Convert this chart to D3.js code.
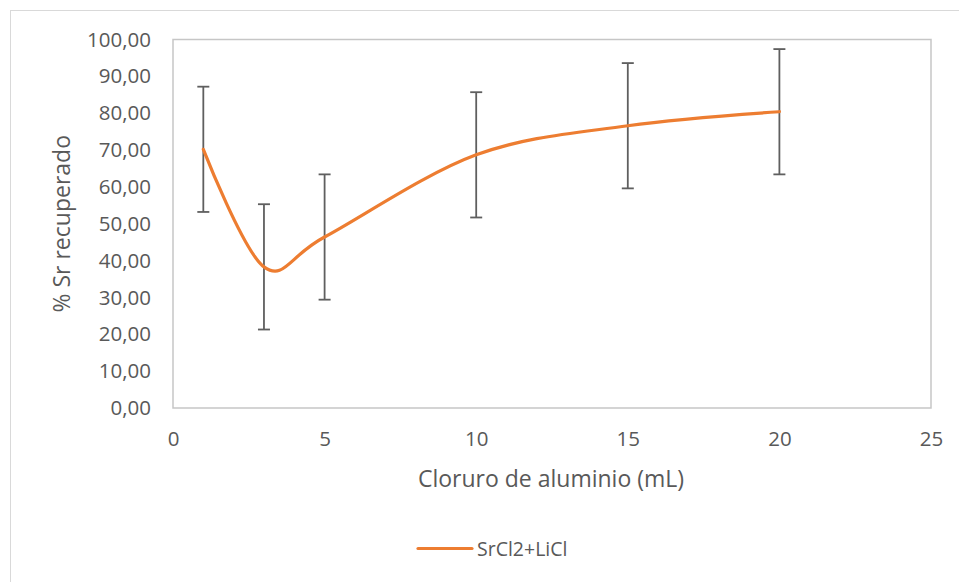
<!DOCTYPE html>
<html>
<head>
<meta charset="utf-8">
<script src="https://cdn.jsdelivr.net/npm/d3@7"></script>
<style>
  html, body { margin: 0; padding: 0; background: #fff; }
  svg { display: block; }
  text { font-family: "Open Sans", "Noto Sans", sans-serif; fill: #595959; }
</style>
</head>
<body>
<svg id="chart" width="959" height="582"></svg>
<script>
// Aluminium chloride volume (mL) vs. % Sr recovered
const volumes = [1, 3, 5, 10, 15, 20];
const recovered = [70.2, 38.3, 46.4, 68.7, 76.6, 80.4];
const errors = [17, 17, 17, 17, 17, 17];
const xTicks = [0, 5, 10, 15, 20, 25];
const yTicks = [0, 10, 20, 30, 40, 50, 60, 70, 80, 90, 100];
const seriesName = "SrCl2+LiCl";
const xTitle = "Cloruro de aluminio (mL)";
const yTitle = "% Sr recuperado";

const svg = d3.select("#chart");
const W = 959, H = 582;
const plot = { left: 173, right: 931, top: 39.5, bottom: 408 };

// chart frame (only top/left edges fall inside the canvas)
svg.append("rect")
  .attr("x", 10.5).attr("y", 10.5)
  .attr("width", W + 20).attr("height", H + 20)
  .attr("fill", "#fff").attr("stroke", "#d9d9d9").attr("stroke-width", 1);

const x = d3.scaleLinear().domain([0, 25]).range([plot.left, plot.right]);
const y = d3.scaleLinear().domain([0, 100]).range([plot.bottom, plot.top]);

// plot area border
svg.append("rect")
  .attr("x", plot.left).attr("y", plot.top)
  .attr("width", plot.right - plot.left).attr("height", plot.bottom - plot.top)
  .attr("fill", "none").attr("stroke", "#c6c6c6").attr("stroke-width", 1.5);

const fmt = d => d.toFixed(2).replace(".", ",");

// y axis
const yAxis = svg.append("g")
  .attr("transform", `translate(${plot.left},0)`)
  .call(d3.axisLeft(y).tickValues(yTicks).tickFormat(fmt).tickSize(0).tickPadding(22));
yAxis.select(".domain").remove();
yAxis.selectAll("text").style("font-size", "20.5px").attr("fill", "#595959");

// x axis
const xAxis = svg.append("g")
  .attr("transform", `translate(0,${plot.bottom})`)
  .call(d3.axisBottom(x).tickValues(xTicks).tickFormat(d3.format("d")).tickSize(0).tickPadding(23));
xAxis.select(".domain").remove();
xAxis.selectAll("text").style("font-size", "20.5px").attr("fill", "#595959");

// axis titles
svg.append("text")
  .attr("x", (plot.left + plot.right) / 2 - 1).attr("y", 487)
  .attr("text-anchor", "middle").style("font-size", "23px")
  .text(xTitle);

svg.append("text")
  .attr("transform", `translate(70,${(plot.top + plot.bottom) / 2}) rotate(-90)`)
  .attr("text-anchor", "middle").style("font-size", "23px")
  .text(yTitle);

const data = volumes.map((v, i) => ({ v, r: recovered[i], e: errors[i] }));

// error bars
const eb = svg.append("g").attr("stroke", "#5f5f5f").attr("stroke-width", 1.8).attr("fill", "none");
data.forEach(d => {
  eb.append("line").attr("x1", x(d.v)).attr("x2", x(d.v))
    .attr("y1", y(d.r - d.e)).attr("y2", y(d.r + d.e));
  [d.r - d.e, d.r + d.e].forEach(val => {
    eb.append("line").attr("x1", x(d.v) - 6).attr("x2", x(d.v) + 6)
      .attr("y1", y(val)).attr("y2", y(val));
  });
});

// smoothed series line
const line = d3.line().x(d => x(d.v)).y(d => y(d.r)).curve(d3.curveCatmullRom.alpha(0));
svg.append("path").datum(data)
  .attr("d", line)
  .attr("fill", "none").attr("stroke", "#ED7D31").attr("stroke-width", 3.2)
  .attr("stroke-linecap", "round");

// legend
const lg = svg.append("g");
lg.append("line").attr("x1", 418).attr("x2", 472).attr("y1", 548.5).attr("y2", 548.5)
  .attr("stroke", "#ED7D31").attr("stroke-width", 3.2).attr("stroke-linecap", "round");
lg.append("text").attr("x", 477).attr("y", 555.5).style("font-size", "19.5px").text(seriesName);
</script>
</body>
</html>
